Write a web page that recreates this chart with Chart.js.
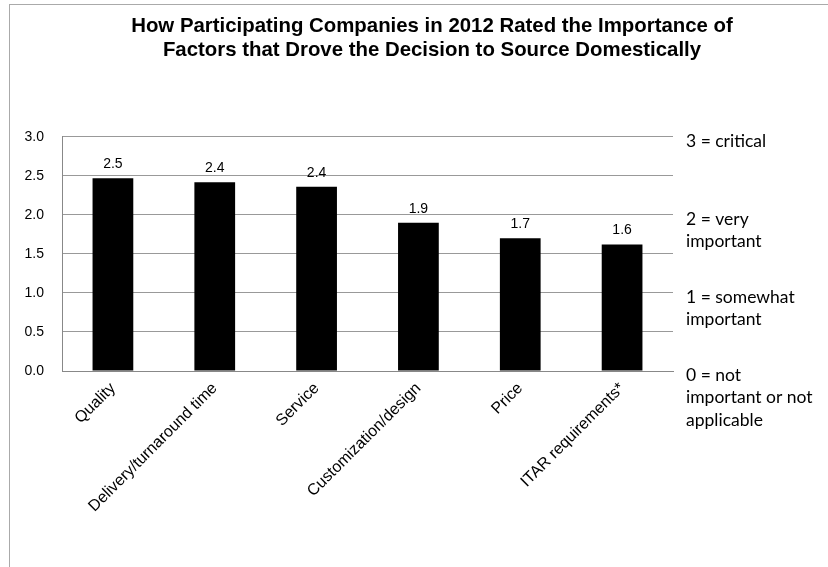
<!DOCTYPE html>
<html>
<head>
<meta charset="utf-8">
<script src="https://cdn.jsdelivr.net/npm/chart.js@4"></script>
<style>
    html, body { margin: 0; padding: 0; background: #fff; }
    #wrap { width: 828px; height: 567px; }
</style>
</head>
<body>
<div id="wrap"><canvas id="myChart" width="828" height="567"></canvas></div>
<script>
"use strict";

const factors = ["Quality", "Delivery/turnaround time", "Service", "Customization/design", "Price", "ITAR requirements*"];
const ratings = [2.47, 2.42, 2.36, 1.90, 1.70, 1.62];
const yTicks = [0, 0.5, 1, 1.5, 2, 2.5, 3];
const scaleNotes = [
    { value: 3, lines: ["3 = critical"] },
    { value: 2, lines: ["2 = very", "important"] },
    { value: 1, lines: ["1 = somewhat", "important"] },
    { value: 0, lines: ["0 = not", "important or not", "applicable"] }
];
const titleLines = [
    "How Participating Companies in 2012 Rated the Importance of",
    "Factors that Drove the Decision to Source Domestically"
];

// white page + thin gray frame
const framePlugin = {
    id: 'frame',
    beforeDraw(chart) {
        const ctx = chart.ctx;
        ctx.save();
        ctx.fillStyle = '#fff';
        ctx.fillRect(0, 0, chart.width, chart.height);
        ctx.strokeStyle = '#aaa';
        ctx.lineWidth = 1;
        ctx.strokeRect(9.5, 4.5, chart.width, chart.height);
        ctx.restore();
    }
};

// value labels above bars and the rating key on the right
const labelPlugin = {
    id: 'labels',
    afterDatasetsDraw(chart) {
        const ctx = chart.ctx;
        const meta = chart.getDatasetMeta(0);
        ctx.save();
        ctx.fillStyle = '#000';
        ctx.font = '14px "Liberation Sans", Arial, sans-serif';
        ctx.textAlign = 'center';
        ctx.textBaseline = 'bottom';
        meta.data.forEach((bar, i) => {
            ctx.fillText(ratings[i].toFixed(1), bar.x, bar.y - 7);
        });

        const y = chart.scales.y;
        ctx.font = '17.5px Lato, "Open Sans", sans-serif';
        ctx.textAlign = 'left';
        ctx.textBaseline = 'middle';
        scaleNotes.forEach(note => {
            const top = y.getPixelForValue(note.value) + 4;
            note.lines.forEach((line, k) => {
                ctx.fillText(line, 686, top + k * 22.5);
            });
        });
        ctx.restore();
    }
};

const ctx = document.getElementById('myChart').getContext('2d');
const myChart = new Chart(ctx, {
    type: 'bar',
    data: {
        labels: factors,
        datasets: [{
            data: ratings,
            backgroundColor: '#000',
            borderWidth: 0,
            barPercentage: 0.4,
            categoryPercentage: 1
        }]
    },
    options: {
        responsive: false,
        animation: false,
        layout: {
            // negative right padding shifts the centred title to the right
            padding: { left: 10, right: -26, top: 0, bottom: 0 }
        },
        plugins: {
            legend: { display: false },
            tooltip: { enabled: false },
            title: {
                display: true,
                text: titleLines,
                color: '#000',
                font: { family: '"Liberation Sans", Arial, sans-serif', size: 20.4, weight: 'bold', lineHeight: 1.15 },
                padding: { top: 15, bottom: 75 }
            }
        },
        scales: {
            x: {
                grid: { display: false },
                border: { display: true, color: '#888' },
                ticks: {
                    color: '#000',
                    font: { family: '"Liberation Sans", Arial, sans-serif', size: 16 },
                    minRotation: 45,
                    maxRotation: 45,
                    padding: 0
                },
                afterFit(scale) { scale.height = 196; }
            },
            y: {
                min: 0,
                max: 3,
                afterBuildTicks(scale) {
                    scale.ticks = yTicks.map(v => ({ value: v }));
                },
                grid: { color: '#999', drawTicks: false },
                border: { display: true, color: '#888' },
                ticks: {
                    color: '#000',
                    font: { family: '"Liberation Sans", Arial, sans-serif', size: 14 },
                    padding: 18,
                    callback: v => Number(v).toFixed(1)
                },
                afterFit(scale) { scale.width = 52; }
            },
            // empty right-hand band that holds the rating key
            key: {
                type: 'linear',
                position: 'right',
                min: 0,
                max: 3,
                grid: { display: false },
                border: { display: false },
                ticks: { display: false },
                afterFit(scale) { scale.width = 181; }
            }
        }
    },
    plugins: [framePlugin, labelPlugin]
});
</script>
</body>
</html>
